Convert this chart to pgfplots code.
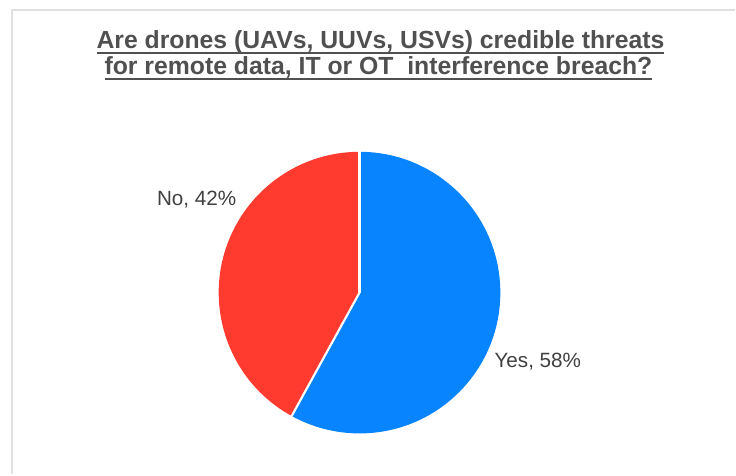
\documentclass[border=0pt]{standalone}
\usepackage{pgfplots}
\pgfplotsset{compat=1.18}
\usepackage{pgfplotstable}
\usepackage{fontspec}
\setmainfont{Liberation Sans}

\definecolor{yesblue}{HTML}{0884FF}
\definecolor{nored}{HTML}{FF3B30}
\definecolor{titlegray}{HTML}{505050}
\definecolor{labelgray}{HTML}{404040}
\definecolor{framegray}{HTML}{E0E0E0}

% share of answers, percent
\pgfplotstableread{
label value
Yes 58
No 42
}\piedata

\pgfplotstablegetelem{0}{value}\of\piedata \let\yesv\pgfplotsretval
\pgfplotstablegetelem{1}{value}\of\piedata \let\nov\pgfplotsretval
\pgfmathsetmacro\yesend{90-3.6*\yesv}
\pgfmathsetmacro\noend{\yesend-3.6*\nov}

% underline just under the baseline, as in the source
\newcommand\ulx[1]{\setbox0\hbox{#1}\rlap{\rule[-3.6pt]{\wd0}{1.3pt}}\box0}

\begin{document}
\begin{tikzpicture}
\begin{axis}[
  at={(0,0)}, anchor=origin,
  width=552pt, height=356.25pt, scale only axis,
  xmin=0, xmax=736, ymin=0, ymax=475,
  hide axis, clip=false,
]
% whole picture area
\path (axis cs:0,0) rectangle (axis cs:736,475);
% frame lines of the chart area
\draw[framegray, line width=1.5pt] (axis cs:11,465) -- (axis cs:736,465);
\draw[framegray, line width=1.5pt] (axis cs:12,465) -- (axis cs:12,0);

\coordinate (c) at (axis cs:360,182);
\fill[yesblue] (c) -- ([shift={(90:105.75pt)}]c)
  arc[start angle=90, end angle=\yesend, radius=105.75pt] -- cycle;
\fill[nored] (c) -- ([shift={(\yesend:105.75pt)}]c)
  arc[start angle=\yesend, end angle=\noend, radius=105.75pt] -- cycle;
\draw[white, line width=1.6pt] (c) -- ([shift={(90:106.5pt)}]c);
\draw[white, line width=1.6pt] (c) -- ([shift={(\yesend:106.5pt)}]c);

% title
\node[anchor=base, font=\fontsize{18.6}{18.6}\selectfont\bfseries, text=titlegray, inner sep=0pt]
  at (axis cs:381,426) {\ulx{Are drones (UAVs, UUVs, USVs) credible threats}};
\node[anchor=base, font=\fontsize{18.6}{18.6}\selectfont\bfseries, text=titlegray, inner sep=0pt]
  at (axis cs:379,400) {\ulx{for remote data, IT or OT\ \ interference breach?}};

% data labels
\node[anchor=base west, font=\fontsize{15.5}{15.5}\selectfont, text=labelgray, inner sep=0pt]
  at (axis cs:157,269) {No, \nov\%};
\node[anchor=base west, font=\fontsize{15.5}{15.5}\selectfont, text=labelgray, inner sep=0pt]
  at (axis cs:495,107) {Yes, \yesv\%};
\end{axis}
\end{tikzpicture}
\end{document}
